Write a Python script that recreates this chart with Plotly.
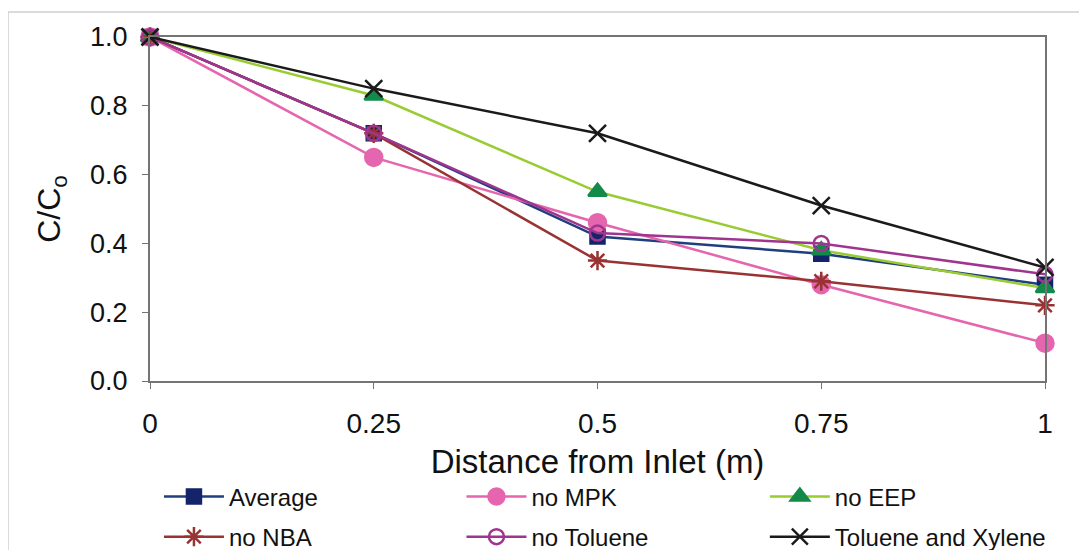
import plotly.graph_objects as go

distance = [0, 0.25, 0.5, 0.75, 1.0]
average = [1.0, 0.72, 0.42, 0.37, 0.28]
no_mpk = [1.0, 0.65, 0.46, 0.28, 0.11]
no_eep = [1.0, 0.83, 0.55, 0.38, 0.27]
no_nba = [1.0, 0.72, 0.35, 0.29, 0.22]
no_toluene = [1.0, 0.72, 0.43, 0.40, 0.31]
tol_xyl = [1.0, 0.85, 0.72, 0.51, 0.33]
x_ticks = [0, 0.25, 0.5, 0.75, 1]
x_tick_labels = ["0", "0.25", "0.5", "0.75", "1"]

# name, values, line colour, marker colour, symbol, size, legend column
series = [
    ("Average", average, "#1F3F7F", "#14246A", "square", 14, "legend"),
    ("no MPK", no_mpk, "#E565AE", "#E565AE", "circle", 17, "legend2"),
    ("no EEP", no_eep, "#99CC33", "#138A4A", "triangle-up", 16, "legend3"),
    ("no NBA", no_nba, "#993333", "#993333", "asterisk-open", 16, "legend"),
    ("no Toluene", no_toluene, "#A0358F", "#A0358F", "circle-open", 15, "legend2"),
    ("Toluene and Xylene", tol_xyl, "#1A1A1A", "#1A1A1A", "x-thin-open", 17, "legend3"),
]

fig = go.Figure()
for name, vals, lc, mc, sym, sz, lg in series:
    fig.add_trace(go.Scatter(
        x=distance, y=vals, name=name, mode="lines+markers",
        line=dict(color=lc, width=2.5),
        marker=dict(symbol=sym, size=sz, color=mc,
                    line=dict(color=mc, width=2.5)),
        cliponaxis=False, legend=lg, legendgroup=name,
    ))

font_main = "Liberation Sans, Arial, sans-serif"
legend_common = dict(orientation="v", xanchor="left", yanchor="middle", y=-0.395,
                     font=dict(family=font_main, size=24, color="#111"),
                     itemwidth=60, bgcolor="rgba(0,0,0,0)", tracegroupgap=6)

# the page body has an 8px margin, so the margins are shifted to compensate
fig.update_layout(
    width=1087, height=550,
    margin=dict(l=142, r=50, t=29, b=177, autoexpand=False),
    paper_bgcolor="white", plot_bgcolor="white",
    font=dict(family=font_main, color="#111"),
    xaxis=dict(range=[0, 1], tickvals=x_ticks, ticktext=x_tick_labels,
               showgrid=False, zeroline=False, showline=True, mirror=True,
               linecolor="#747474", linewidth=2, ticks="outside", ticklen=6,
               tickcolor="#747474", tickfont=dict(size=28), ticklabelstandoff=10,
               title=dict(text="Distance from Inlet (m)", font=dict(size=33), standoff=12)),
    yaxis=dict(range=[0, 1.0], dtick=0.2, tickformat=".1f",
               showgrid=False, zeroline=False, showline=True, mirror=True,
               linecolor="#747474", linewidth=2, ticks="outside", ticklen=6,
               tickcolor="#747474", tickfont=dict(size=27), ticklabelstandoff=9,
               title=dict(text="C/C<sub>o</sub>", font=dict(size=32), standoff=20)),
    legend=dict(x=0.010, **legend_common),
    legend2=dict(x=0.348, **legend_common),
    legend3=dict(x=0.687, **legend_common),
    shapes=[dict(type="rect", xref="paper", yref="paper",
                 x0=-142/895, x1=1 + 60/895, y0=-190/344, y1=1 + 25/344,
                 line=dict(color="#D0D0D0", width=1.5))],
)

fig.write_html("out.html")
